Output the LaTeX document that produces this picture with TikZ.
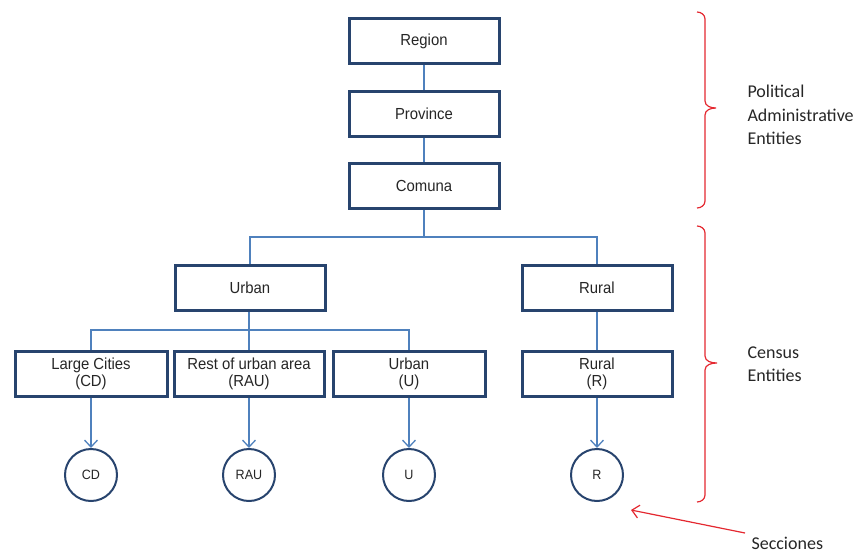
\documentclass[tikz,border=0pt]{standalone}
\usepackage{fontspec}
\setmainfont{Liberation Sans}
\newfontfamily\boxfont[FakeStretch=0.93]{Liberation Sans}
\newfontfamily\sidefont{Carlito}
\usetikzlibrary{arrows.meta, positioning, calc}
\definecolor{boxnavy}{RGB}{40,68,110}
\definecolor{linkblue}{RGB}{79,129,189}
\definecolor{bracered}{RGB}{228,40,48}
\tikzset{
  unitbox/.style={
    draw=boxnavy, line width=3pt, fill=white,
    minimum width=150pt, minimum height=45pt,
    align=center, inner sep=1pt,
    font=\boxfont\fontsize{16}{17}\selectfont, text=black!85,
  },
  secnode/.style={
    circle, draw=boxnavy, line width=2pt, fill=white,
    minimum size=52pt, inner sep=0pt,
    font=\boxfont\fontsize{13.5}{14}\selectfont, text=black!85,
  },
  link/.style ={draw=linkblue, line width=1.3pt},
  linkarr/.style={link, -{Straight Barb[length=7pt,width=13pt,line width=1.3pt]}},
  grpbrace/.style={draw=bracered, line width=1.2pt},
  sidelbl/.style={anchor=west, align=left, font=\sidefont\fontsize{18}{23.5}\selectfont,
    text=black!85},
}

\begin{document}
\begin{tikzpicture}[x=1pt, y=-1pt]
\useasboundingbox (0,0) rectangle (856,554);

%% ------------------------------------------------------------
%%  political-administrative levels
%% ------------------------------------------------------------
\node[unitbox] (region)   at (424,41)    {Region};
\node[unitbox] (province) at (424,113.5) {Province};
\node[unitbox] (comuna)   at (424,186)   {Comuna};

\draw[link] (region.south) -- (province.north);
\draw[link] (province.south) -- (comuna.north);

%% ------------------------------------------------------------
%%  census levels
%% ------------------------------------------------------------
\node[unitbox] (urban) at (250,287.5) {Urban};
\node[unitbox] (rural) at (597,287.5) {Rural};

\node[unitbox, minimum width=152pt] (lcities) at (91,374)  {Large Cities\\(CD)};
\node[unitbox]                      (resturb) at (249,374) {Rest of urban area\\(RAU)};
\node[unitbox, minimum width=152pt] (urbanu)  at (409,374) {Urban\\(U)};
\node[unitbox]                      (ruralr)  at (597,374) {Rural\\(R)};

% split below comuna
\coordinate (splitc) at (424,237);
\draw[link] (comuna.south) -- (splitc);
\draw[link] (urban.north) |- (splitc) -| (rural.north);

% split below urban
\coordinate (splitu) at (249,330);
\draw[link] (urban.south -| splitu) -- (resturb.north);
\draw[link] (lcities.north) |- (splitu) -| (urbanu.north);
\draw[link] (rural.south) -- (ruralr.north);

% secciones
\node[secnode] (cd)  at (91,475)  {CD};
\node[secnode] (rau) at (249,475) {RAU};
\node[secnode] (u)   at (409,475) {U};
\node[secnode] (r)   at (597,475) {R};

\draw[linkarr] (lcities.south) -- (cd.north);
\draw[linkarr] (resturb.south) -- (rau.north);
\draw[linkarr] (urbanu.south)  -- (u.north);
\draw[linkarr] (ruralr.south)  -- (r.north);

%% ------------------------------------------------------------
%%  braces and side labels
%% ------------------------------------------------------------
\coordinate (poltip) at (716,108);
\coordinate (centip) at (717,363);
\draw[grpbrace]
  (697,12) to[out=0,in=90] (705,19) -- (705,101)
  to[out=-90,in=180] (poltip) to[out=180,in=90] (705,115)
  -- (705,201) to[out=-90,in=0] (697,208);
\draw[grpbrace]
  (697,226) to[out=0,in=90] (705,233) -- (705,356)
  to[out=-90,in=180] (centip) to[out=180,in=90] (705,370)
  -- (705,495) to[out=-90,in=0] (697,502);

\node[sidelbl] (pollbl) at (744,115) {Political\\Administrative\\Entities};
\node[sidelbl] (cenlbl) at (744,364) {Census\\Entities};

\node[sidelbl] (seclbl) at (748,543) {Secciones};
\coordinate (secarr) at (745,533);
\draw[grpbrace, -{Straight Barb[length=7pt,width=13pt,line width=1.2pt]}]
  (secarr) -- (631,510);

\end{tikzpicture}
\end{document}
